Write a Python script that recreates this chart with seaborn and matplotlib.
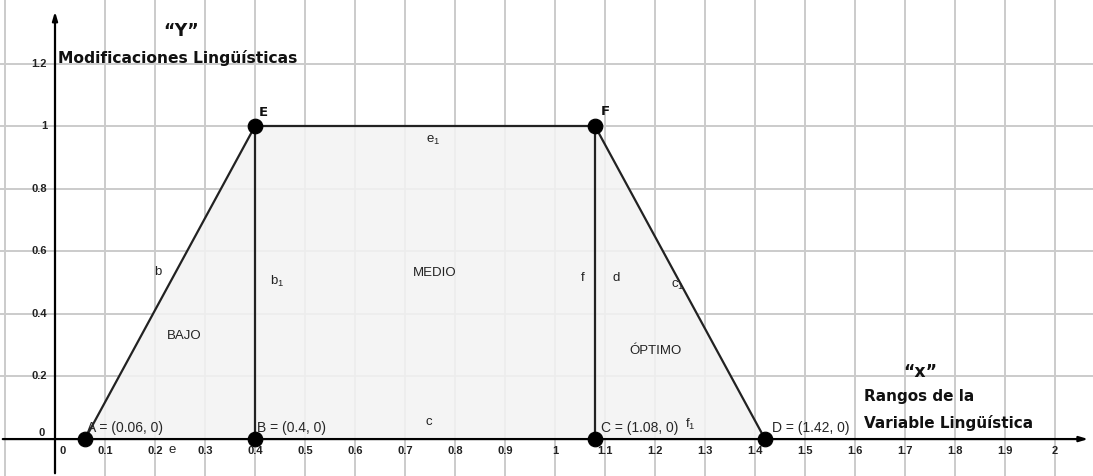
import numpy as np
import pandas as pd
import matplotlib
matplotlib.use("Agg")
import matplotlib.pyplot as plt
import seaborn as sns

# ---- data ----
point_names = ["A", "E", "F", "D", "B", "C"]
point_x = [0.06, 0.4, 1.08, 1.42, 0.4, 1.08]
point_y = [0.0, 1.0, 1.0, 0.0, 0.0, 0.0]

trap_x = [0.06, 0.4, 1.08, 1.42]
trap_y = [0.0, 1.0, 1.0, 0.0]

x_ticks = [0.1, 0.2, 0.3, 0.4, 0.5, 0.6, 0.7, 0.8, 0.9, 1.0,
           1.1, 1.2, 1.3, 1.4, 1.5, 1.6, 1.7, 1.8, 1.9, 2.0]
y_ticks = [0.2, 0.4, 0.6, 0.8, 1.0, 1.2]

sns.set_style("white")
plt.rcParams['font.family'] = ['Liberation Sans', 'DejaVu Sans']
plt.rcParams['mathtext.fontset'] = 'custom'
plt.rcParams['mathtext.rm'] = 'Liberation Sans'

fig = plt.figure(figsize=(10.93, 4.76), dpi=100)
ax = fig.add_axes([0, 0, 1, 1])
ax.set_xlim(-0.11, 2.076)
ax.set_ylim(-0.118, 1.403)

# grid
for gx in [-0.1] + x_ticks:
    ax.axvline(gx, color="#cbcbcb", lw=1.4, zorder=0)
for gy in [-0.2] + y_ticks:
    ax.axhline(gy, color="#cbcbcb", lw=1.4, zorder=0)

# fill of trapezoid
ax.fill(trap_x, trap_y, color="#f3f3f3", alpha=0.85, zorder=1, lw=0)

# axes with arrows
ax.annotate("", xy=(2.072, 0), xytext=(-0.11, 0),
            arrowprops=dict(arrowstyle="-|>,head_length=0.5,head_width=0.15", color="black", lw=1.6), zorder=3)
ax.annotate("", xy=(0, 1.375), xytext=(0, -0.118),
            arrowprops=dict(arrowstyle="-|>,head_length=0.5,head_width=0.15", color="black", lw=1.6), zorder=3)

# segments
segs = [("A", "E"), ("E", "B"), ("E", "F"), ("F", "C"), ("F", "D")]
px = dict(zip(point_names, point_x))
py = dict(zip(point_names, point_y))
for s, e in segs:
    df = pd.DataFrame({"x": [px[s], px[e]], "y": [py[s], py[e]]})
    sns.lineplot(data=df, x="x", y="y", ax=ax, color="#222222", lw=1.6,
                 sort=False, estimator=None, zorder=4)

pts = pd.DataFrame({"x": point_x, "y": point_y, "name": point_names})
sns.scatterplot(data=pts, x="x", y="y", ax=ax, color="black", s=110,
                edgecolor="black", zorder=5, legend=False)

# ticks as text
for t in x_ticks:
    ax.text(t, -0.022, f"{t:g}", ha="center", va="top", fontsize=8,
            fontweight="bold", color="#222222")
for t in y_ticks:
    ax.text(-0.016, t, f"{t:g}", ha="right", va="center", fontsize=8,
            fontweight="bold", color="#222222")
ax.text(0.016, -0.022, "0", ha="center", va="top", fontsize=8, fontweight="bold", color="#222222")
ax.text(-0.02, 0.02, "0", ha="right", va="center", fontsize=8, fontweight="bold", color="#222222")

title_font = dict(family="DejaVu Sans", fontweight="bold", color="#111111")

# point labels
ax.text(0.416, 1.045, "E", fontsize=9.5, ha="center", va="center", **title_font)
ax.text(1.1, 1.048, "F", fontsize=9.5, ha="center", va="center", **title_font)
ax.text(0.064, 0.012, "A = (0.06, 0)", fontsize=10, ha="left", va="bottom")
ax.text(0.404, 0.012, "B = (0.4, 0)", fontsize=10, ha="left", va="bottom")
ax.text(1.092, 0.012, "C = (1.08, 0)", fontsize=10, ha="left", va="bottom")
ax.text(1.434, 0.012, "D = (1.42, 0)", fontsize=10, ha="left", va="bottom")

# segment labels
small = dict(fontsize=9.5, ha="center", va="center", color="#222222")
ax.text(0.206, 0.534, "b", **small)
ax.text(0.445, 0.505, r"b$_\mathregular{1}$", **small)
ax.text(0.756, 0.955, r"e$_\mathregular{1}$", **small)
ax.text(1.056, 0.514, "f", **small)
ax.text(1.122, 0.514, "d", **small)
ax.text(1.245, 0.49, r"c$_\mathregular{1}$", **small)
ax.text(0.748, 0.054, "c", **small)
ax.text(0.234, -0.035, "e", **small)
ax.text(1.27, 0.048, r"f$_\mathregular{1}$", **small)

# region labels
ax.text(0.76, 0.532, "MEDIO", **small)
ax.text(0.258, 0.33, "BAJO", **small)
ax.text(1.2, 0.282, "ÓPTIMO", **small)

# axis titles
ax.text(0.252, 1.305, "\u201cY\u201d", fontsize=12.5, ha="center", va="center", **title_font)
ax.text(0.006, 1.217, "Modificaciones Lingüísticas", fontsize=11.2,
        ha="left", va="center", **title_font)
ax.text(1.73, 0.214, "\u201cx\u201d", fontsize=12.5, ha="center", va="center", **title_font)
ax.text(1.618, 0.137, "Rangos de la", fontsize=11, ha="left", va="center", **title_font)
ax.text(1.618, 0.052, "Variable Lingüística", fontsize=11, ha="left", va="center", **title_font)

ax.set_xticks([])
ax.set_yticks([])
ax.set_xlabel("")
ax.set_ylabel("")
for sp in ax.spines.values():
    sp.set_visible(False)

fig.savefig("out.png", dpi=100)
